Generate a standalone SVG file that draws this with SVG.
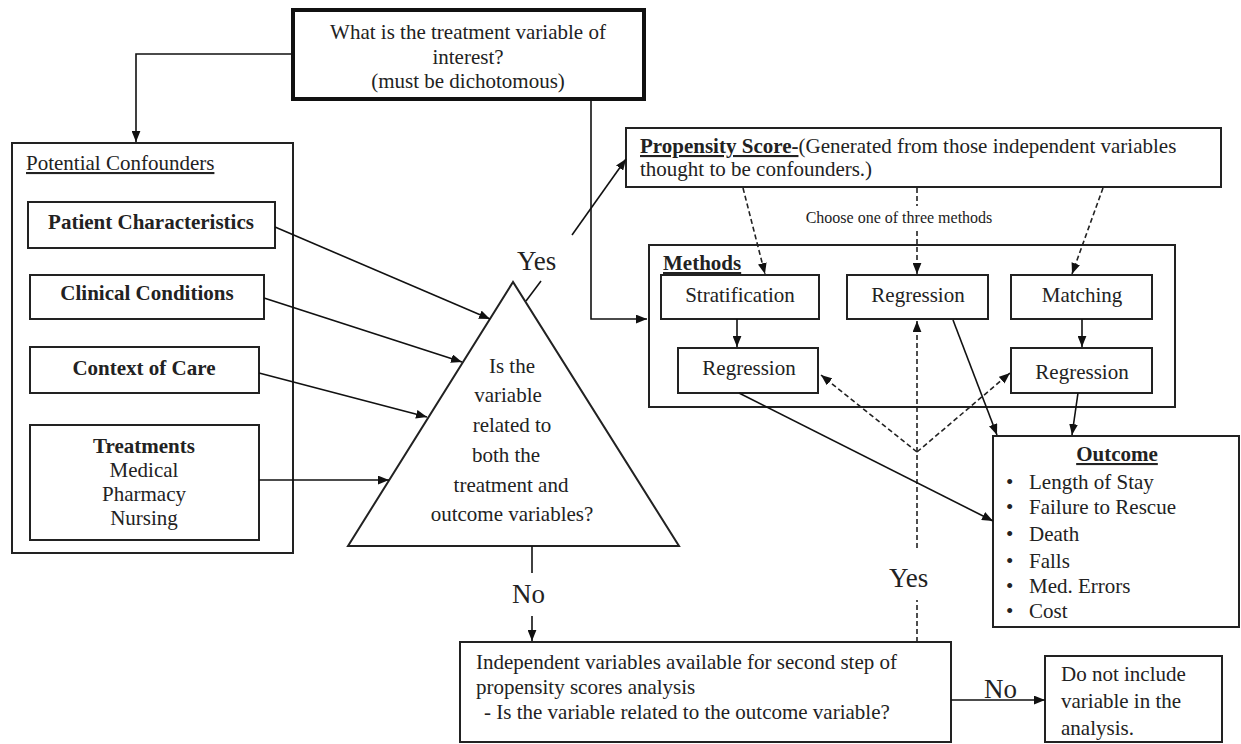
<svg xmlns="http://www.w3.org/2000/svg" width="1241" height="744" viewBox="0 0 1241 744">
<defs>
<marker id="ah" viewBox="0 0 10 8" refX="10" refY="4" markerWidth="11" markerHeight="9" markerUnits="userSpaceOnUse" orient="auto"><path d="M0,0 L10,4 L0,8 z" fill="#111"/></marker>
</defs>
<style>
.box{fill:#fff;stroke:#222;stroke-width:2}
.thick{fill:#fff;stroke:#111;stroke-width:4}
text{font-family:"Liberation Serif","Times New Roman",serif;font-size:21px;fill:#222}
.c{text-anchor:middle}
.b{font-weight:bold}
.u{text-decoration:underline}
.big{font-size:27px}
.sm{font-size:16px}
.ln{fill:none;stroke:#111;stroke-width:1.6}
.dash{fill:none;stroke:#222;stroke-width:1.6;stroke-dasharray:5 3}
</style>
<rect width="1241" height="744" fill="#fff"/>

<g id="treatment-question">
<rect class="thick" x="293" y="10" width="351" height="89"/>
<text class="c" x="468" y="39">What is the treatment variable of</text>
<text class="c" x="468" y="64">interest?</text>
<text class="c" x="468" y="88">(must be dichotomous)</text>
</g>

<g id="potential-confounders">
<rect class="box" x="12" y="143" width="281" height="410"/>
<text class="u" x="26" y="170">Potential Confounders</text>
</g>
<g id="patient-characteristics">
<rect class="box" x="28" y="202" width="247" height="46"/>
<text class="c b" x="151" y="229">Patient Characteristics</text>
</g>
<g id="clinical-conditions">
<rect class="box" x="30" y="275" width="234" height="44"/>
<text class="c b" x="147" y="300">Clinical Conditions</text>
</g>
<g id="context-of-care">
<rect class="box" x="30" y="347" width="229" height="46"/>
<text class="c b" x="144" y="375">Context of Care</text>
</g>
<g id="treatments">
<rect class="box" x="30" y="425" width="229" height="115"/>
<text class="c b" x="144" y="453">Treatments</text>
<text class="c" x="144" y="477">Medical</text>
<text class="c" x="144" y="501">Pharmacy</text>
<text class="c" x="144" y="525">Nursing</text>
</g>

<g id="related-question">
<polygon points="513,282 348,546 679,546" fill="#fff" stroke="#222" stroke-width="2"/>
<text class="c" x="512" y="373">Is the</text>
<text class="c" x="508" y="402">variable</text>
<text class="c" x="512" y="432">related to</text>
<text class="c" x="506" y="462">both the</text>
<text class="c" x="511" y="492">treatment and</text>
<text class="c" x="512" y="521">outcome variables?</text>
</g>

<g id="propensity-score">
<rect class="box" x="626" y="128" width="595" height="59"/>
<text x="640" y="153"><tspan class="b u">Propensity Score-</tspan>(Generated from those independent variables</text>
<text x="640" y="176">thought to be confounders.)</text>
</g>
<text class="sm c" x="899" y="223">Choose one of three methods</text>

<g id="methods">
<rect class="box" x="649" y="245" width="526" height="162"/>
<text class="b u" x="663" y="270">Methods</text>
</g>
<g id="stratification">
<rect class="box" x="661" y="275" width="158" height="44"/>
<text class="c" x="740" y="302">Stratification</text>
</g>
<g id="regression-direct">
<rect class="box" x="847" y="275" width="141" height="44"/>
<text class="c" x="918" y="302">Regression</text>
</g>
<g id="matching">
<rect class="box" x="1011" y="275" width="141" height="44"/>
<text class="c" x="1082" y="302">Matching</text>
</g>
<g id="regression-after-stratification">
<rect class="box" x="678" y="348" width="140" height="45"/>
<text class="c" x="749" y="375">Regression</text>
</g>
<g id="regression-after-matching">
<rect class="box" x="1011" y="348" width="141" height="45"/>
<text class="c" x="1082" y="379">Regression</text>
</g>

<g id="outcome">
<rect class="box" x="993" y="436" width="246" height="191"/>
<text class="c b u" x="1117" y="461">Outcome</text>
<text x="1006" y="489">•</text><text x="1029" y="489">Length of Stay</text>
<text x="1006" y="514">•</text><text x="1029" y="514">Failure to Rescue</text>
<text x="1006" y="541">•</text><text x="1029" y="541">Death</text>
<text x="1006" y="568">•</text><text x="1029" y="568">Falls</text>
<text x="1006" y="593">•</text><text x="1029" y="593">Med. Errors</text>
<text x="1006" y="618">•</text><text x="1029" y="618">Cost</text>
</g>

<g id="second-step">
<rect class="box" x="460" y="642" width="491" height="100"/>
<text x="476" y="669">Independent variables available for second step of</text>
<text x="476" y="694">propensity scores analysis</text>
<text x="484" y="719">- Is the variable related to the outcome variable?</text>
</g>
<g id="do-not-include">
<rect class="box" x="1045" y="656" width="177" height="86"/>
<text x="1061" y="681">Do not include</text>
<text x="1061" y="708">variable in the</text>
<text x="1061" y="735">analysis.</text>
</g>

<g id="connectors">
<path class="ln" d="M293,54 H136 V142" marker-end="url(#ah)"/>
<path class="ln" d="M591,99 V319 H647" marker-end="url(#ah)"/>
<line class="ln" x1="275" y1="227" x2="490" y2="319" marker-end="url(#ah)"/>
<line class="ln" x1="264" y1="298" x2="462" y2="362" marker-end="url(#ah)"/>
<line class="ln" x1="259" y1="373" x2="427" y2="417" marker-end="url(#ah)"/>
<line class="ln" x1="259" y1="480" x2="389" y2="480" marker-end="url(#ah)"/>
<line class="ln" x1="526" y1="301" x2="541" y2="281"/>
<line class="ln" x1="572" y1="235" x2="626" y2="159" marker-end="url(#ah)"/>
<line class="ln" x1="532" y1="546" x2="532" y2="573"/>
<line class="ln" x1="532" y1="616" x2="532" y2="641" marker-end="url(#ah)"/>
<line class="ln" x1="951" y1="700" x2="1045" y2="700" marker-end="url(#ah)"/>
<line class="dash" x1="743" y1="188" x2="765" y2="274" marker-end="url(#ah)"/>
<line class="dash" x1="917" y1="188" x2="917" y2="206"/>
<line class="dash" x1="917" y1="231" x2="917" y2="274" marker-end="url(#ah)"/>
<line class="dash" x1="1103" y1="188" x2="1072" y2="274" marker-end="url(#ah)"/>
<line class="ln" x1="737" y1="319" x2="737" y2="347" marker-end="url(#ah)"/>
<line class="ln" x1="1082" y1="319" x2="1082" y2="347" marker-end="url(#ah)"/>
<line class="dash" x1="917" y1="642" x2="917" y2="600"/>
<line class="dash" x1="917" y1="548" x2="917" y2="321" marker-end="url(#ah)"/>
<line class="dash" x1="917" y1="452" x2="821" y2="375" marker-end="url(#ah)"/>
<line class="dash" x1="917" y1="452" x2="1010" y2="373" marker-end="url(#ah)"/>
<line class="ln" x1="953" y1="320" x2="997" y2="435" marker-end="url(#ah)"/>
<line class="ln" x1="1078" y1="393" x2="1072" y2="435" marker-end="url(#ah)"/>
<line class="ln" x1="739" y1="393" x2="993" y2="521" marker-end="url(#ah)"/>
</g>

<g id="labels">
<text class="big" x="517" y="270">Yes</text>
<text class="big" x="512" y="603">No</text>
<text class="big" x="889" y="587">Yes</text>
<text class="big" x="984" y="698">No</text>
</g>
</svg>
